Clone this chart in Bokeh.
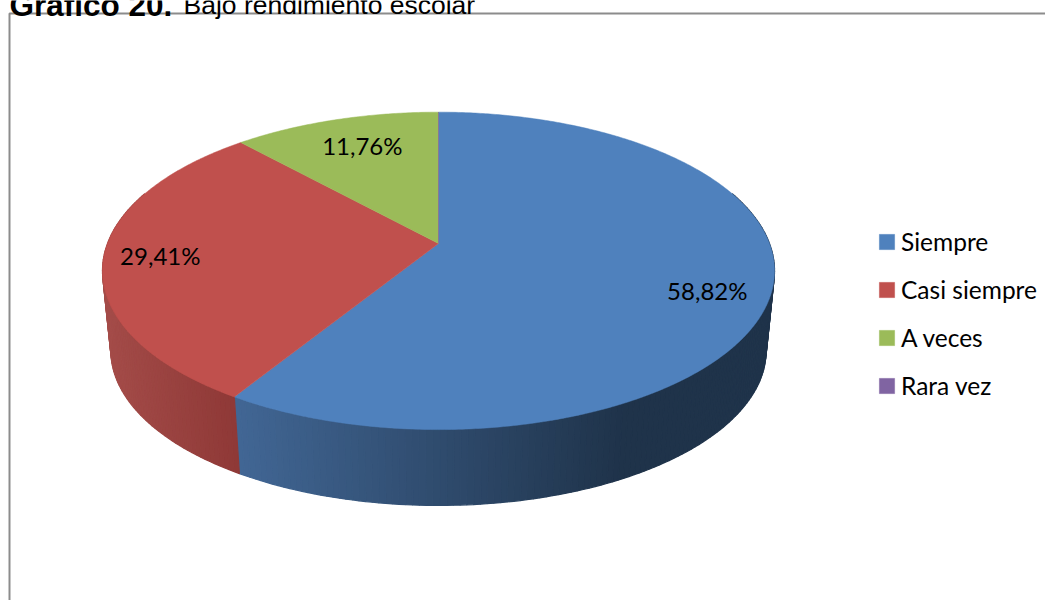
import math
import numpy as np
from bokeh.plotting import figure
from bokeh.models import Range1d, Legend, LegendItem
from bokeh.core.properties import value
from bokeh.embed import file_html
from bokeh.resources import INLINE

categories = ["Siempre", "Casi siempre", "A veces", "Rara vez"]
percents = [58.82, 29.41, 11.76, 0.0]
labels = ["58,82%", "29,41%", "11,76%"]
colors = ["#4f81bd", "#c0504d", "#9bbb59", "#8064a2"]
wall_left = {"Siempre": "#416694", "Casi siempre": "#a44c49"}
wall_right = {"Siempre": "#1f334a", "Casi siempre": "#8e3836"}
title_bold = "Gráfico 20."
title_rest = "Bajo rendimiento escolar"

W, H = 1045, 600
CX, CY, A, B, K = 438.0, 243.0, 331.0, 154.0, 0.1724
S, BOTTOM_CY = 0.975, 323.5
LABEL_R = [0.812, 0.833, 0.71]
LABEL_DY = [11, 0, -6]


def project(theta, r=1.0, scale=1.0, cy=CY):
    u = r * np.sin(theta)
    v = r * np.cos(theta)
    d = 1 + K * v
    return CX + scale * A * u / d, cy - scale * B * v / d


p = figure(width=W, height=H, x_range=Range1d(0, W), y_range=Range1d(H, 0),
           output_backend="svg", toolbar_location=None, min_border=0,
           outline_line_color=None,
           background_fill_color="white", border_fill_color="white")
p.xaxis.visible = False
p.yaxis.visible = False
p.grid.visible = False

# frame of the chart
p.line([9, 9, W + 5], [H + 5, 13, 13], line_color="#8c8c8c", line_width=2)

# angles of the slices, clockwise from the top
total = sum(percents)
edges = np.concatenate([[0], np.cumsum(percents) / total * 2 * math.pi])

# walls
wall_min, wall_max = math.radians(70), math.radians(290)
xs, ys, cs = [], [], []
for i, name in enumerate(categories):
    if name not in wall_left:
        continue
    a0, a1 = max(edges[i], wall_min), min(edges[i + 1], wall_max)
    if a1 <= a0:
        continue
    n = int((a1 - a0) / math.radians(1)) + 1
    ts = np.linspace(a0, a1, n + 1)
    c0 = np.array([int(wall_left[name][j:j + 2], 16) for j in (1, 3, 5)], float)
    c1 = np.array([int(wall_right[name][j:j + 2], 16) for j in (1, 3, 5)], float)
    for j in range(n):
        seg = np.array([ts[j], ts[j + 1]])
        x1, y1 = project(seg)
        x2, y2 = project(seg, scale=S, cy=BOTTOM_CY)
        xs.append(list(x1) + list(x2[::-1]))
        ys.append(list(y1) + list(y2[::-1]))
        mid = 0.5 * (x1.mean() + x2.mean())
        if name == "Siempre":
            f = min(1.0, max(0.0, (mid - 240) / 380))
        else:
            f = min(1.0, max(0.0, (mid - 105) / 135))
        c = c0 + (c1 - c0) * f
        cs.append("#%02x%02x%02x" % tuple(int(round(q)) for q in c))
p.patches(xs, ys, fill_color=cs, line_color=cs, line_width=1.2)

# top faces
items = []
for i, name in enumerate(categories):
    n = max(2, int((edges[i + 1] - edges[i]) / math.radians(0.5)))
    ts = np.linspace(edges[i], edges[i + 1], n)
    x, y = project(ts)
    r = p.patch(np.concatenate([[CX], x]), np.concatenate([[CY], y]),
                fill_color=colors[i], line_color=colors[i], line_width=0.5)
    items.append(LegendItem(label=name, renderers=[r]))

# data labels
lx, ly = [], []
for i, lab in enumerate(labels):
    mid = 0.5 * (edges[i] + edges[i + 1])
    x, y = project(np.array([mid]), r=LABEL_R[i])
    lx.append(float(x[0]))
    ly.append(float(y[0]) + LABEL_DY[i])
p.text(lx, ly, text=labels, text_font=value("Lato"), text_font_size="24px",
       text_color="#000000", text_align="center", text_baseline="middle")

# title
p.text([9], [4.5], text=[title_bold], text_font=value("Liberation Sans"), text_font_style="bold",
       text_font_size="31.5px", text_color="#000000", text_baseline="alphabetic")
p.text([183], [4.5], text=[title_rest], text_font=value("Liberation Sans"),
       text_font_size="26.5px", text_color="#000000", text_baseline="alphabetic")

legend = Legend(items=items, location=(877, H - 400), orientation="vertical",
                glyph_width=19, glyph_height=19, label_standoff=5, spacing=19,
                padding=0, margin=0, border_line_color=None, background_fill_alpha=0,
                label_text_font="Lato", label_text_font_size="24.5px", label_text_color="#000000",
                label_height=15, label_text_baseline="middle")
p.add_layout(legend)

open("out.html", "w").write(file_html(p, INLINE))
